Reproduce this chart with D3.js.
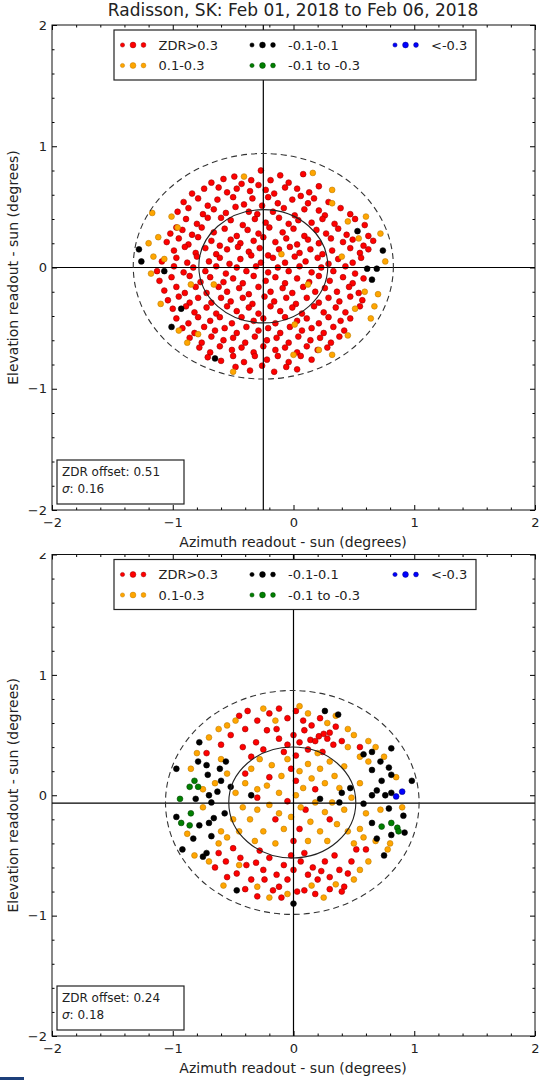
<!DOCTYPE html>
<html>
<head>
<meta charset="utf-8">
<script src="https://cdn.jsdelivr.net/npm/d3@7"></script>
<style>
  body { margin: 0; background: #fff; }
  svg { display: block; }
  text { font-family: "DejaVu Sans", sans-serif; fill: #222; }
</style>
</head>
<body>
<div id="chart"></div>
<script>
const titleText = "Radisson, SK: Feb 01, 2018 to Feb 06, 2018";
const xLabel = "Azimuth readout - sun (degrees)";
const yLabel = "Elevation readout - sun (degrees)";
const axisTicks = [-2, -1, 0, 1, 2];

// legend rows: [label, series key]
const legendRow1 = [["ZDR>0.3", "red"], ["-0.1-0.1", "black"], ["<-0.3", "blue"]];
const legendRow2 = [["0.1-0.3", "orange"], ["-0.1 to -0.3", "green"]];

// panel 1 (top)
const p1Cross = [-0.25, 0.0];
const p1Centre = [-0.25, 0.01];
const p1Inner = [0.534, 0.467];
const p1Outer = [1.077, 0.93];
const p1Stats = ["0.51", "0.16"];

const p1Red = [
  [-0.68,0.70],[-0.58,0.73],[-0.49,0.75],[-0.43,0.69],[-0.27,0.80],[-0.19,0.72],[-0.11,0.76],[-0.04,0.70],[0.08,0.77],[0.03,0.65],[-0.35,0.72],[-0.62,0.66],
  [-0.84,0.61],[-0.74,0.65],[-0.55,0.62],[-0.47,0.65],[-0.36,0.63],[-0.29,0.68],[-0.16,0.61],[-0.07,0.66],[0.13,0.62],[0.21,0.67],[-0.23,0.64],[0.06,0.59],
  [-0.91,0.54],[-0.79,0.57],[-0.71,0.51],[-0.63,0.56],[-0.50,0.58],[-0.41,0.52],[-0.34,0.57],[-0.21,0.58],[-0.13,0.53],[-0.01,0.56],[0.12,0.53],[0.17,0.57],[0.29,0.54],[-0.26,0.51],
  [-0.96,0.46],[-0.87,0.49],[-0.75,0.44],[-0.66,0.48],[-0.56,0.45],[-0.48,0.50],[-0.37,0.46],[-0.30,0.44],[-0.17,0.46],[-0.08,0.49],[0.01,0.43],[0.09,0.48],[0.21,0.47],[0.26,0.43],[0.39,0.49],[0.47,0.44],[-0.60,0.41],
  [-0.89,0.40],[-0.80,0.36],[-0.71,0.41],[-0.52,0.39],[-0.42,0.35],[-0.32,0.40],[-0.23,0.37],[-0.12,0.41],[-0.04,0.36],[0.04,0.39],[0.15,0.37],[0.24,0.40],[0.34,0.36],[0.51,0.40],[0.59,0.35],[-0.97,0.33],
  [-1.02,0.28],[-0.92,0.31],[-0.84,0.27],[-0.76,0.33],[-0.66,0.29],[-0.57,0.32],[-0.47,0.26],[-0.38,0.31],[-0.29,0.28],[-0.20,0.33],[-0.09,0.29],[0.00,0.32],[0.09,0.26],[0.19,0.31],[0.27,0.28],[0.37,0.32],[0.44,0.27],[0.62,0.26],
  [-1.05,0.21],[-0.95,0.24],[-0.87,0.19],[-0.79,0.25],[-0.68,0.22],[-0.61,0.18],[-0.52,0.23],[-0.44,0.20],[-0.33,0.22],[-0.25,0.25],[-0.15,0.21],[-0.06,0.24],[0.03,0.19],[0.12,0.23],[0.21,0.20],[0.31,0.24],[0.41,0.21],[0.49,0.23],[0.58,0.18],[0.66,0.22],
  [-0.99,0.14],[-0.90,0.17],[-0.81,0.12],[-0.73,0.16],[-0.64,0.11],[-0.55,0.15],[-0.46,0.17],[-0.37,0.13],[-0.28,0.16],[-0.21,0.10],[-0.12,0.15],[-0.03,0.17],[0.05,0.12],[0.14,0.15],[0.24,0.11],[0.32,0.14],[0.47,0.16],[0.55,0.12],[0.62,0.15],
  [-1.09,0.05],[-0.97,0.08],[-0.88,0.04],[-0.80,0.09],[-0.70,0.05],[-0.61,0.08],[-0.53,0.03],[-0.44,0.07],[-0.35,0.10],[-0.27,0.04],[-0.17,0.08],[-0.07,0.04],[0.01,0.09],[0.10,0.05],[0.20,0.08],[0.29,0.03],[0.37,0.07],[0.49,0.04],[0.56,0.08],
  [-1.13,-0.03],[-0.99,0.01],[-0.91,-0.04],[-0.83,0.00],[-0.73,-0.03],[-0.64,0.01],[-0.56,-0.05],[-0.47,0.00],[-0.39,-0.03],[-0.31,0.01],[-0.21,-0.04],[-0.13,0.00],[-0.04,-0.03],[0.05,0.01],[0.15,-0.04],[0.23,0.00],[0.33,-0.03],[0.43,0.01],[0.51,-0.05],
  [-1.11,-0.11],[-1.01,-0.08],[-0.86,-0.07],[-0.77,-0.12],[-0.69,-0.08],[-0.58,-0.12],[-0.50,-0.09],[-0.42,-0.13],[-0.33,-0.07],[-0.23,-0.11],[-0.15,-0.08],[-0.07,-0.13],[0.03,-0.09],[0.13,-0.12],[0.21,-0.07],[0.30,-0.11],[0.41,-0.08],[0.49,-0.13],[0.58,-0.09],
  [-1.07,-0.19],[-0.97,-0.16],[-0.90,-0.21],[-0.81,-0.16],[-0.72,-0.21],[-0.62,-0.16],[-0.55,-0.20],[-0.45,-0.17],[-0.37,-0.22],[-0.29,-0.16],[-0.19,-0.20],[-0.09,-0.17],[-0.01,-0.21],[0.08,-0.16],[0.18,-0.20],[0.26,-0.17],[0.36,-0.20],[0.46,-0.16],[0.54,-0.21],
  [-1.04,-0.27],[-0.95,-0.24],[-0.86,-0.29],[-0.79,-0.25],[-0.68,-0.29],[-0.60,-0.25],[-0.52,-0.28],[-0.42,-0.25],[-0.34,-0.30],[-0.24,-0.24],[-0.16,-0.28],[-0.06,-0.25],[0.02,-0.30],[0.11,-0.25],[0.21,-0.29],[0.29,-0.25],[0.38,-0.28],[0.47,-0.24],[0.57,-0.27],
  [-1.00,-0.34],[-0.89,-0.32],[-0.82,-0.37],[-0.72,-0.33],[-0.64,-0.38],[-0.55,-0.32],[-0.47,-0.36],[-0.37,-0.33],[-0.29,-0.38],[-0.19,-0.32],[-0.11,-0.36],[-0.01,-0.33],[0.07,-0.38],[0.17,-0.32],[0.25,-0.37],[0.35,-0.33],[0.43,-0.37],[0.55,-0.32],
  [-0.97,-0.42],[-0.87,-0.46],[-0.79,-0.41],[-0.69,-0.44],[-0.61,-0.41],[-0.51,-0.46],[-0.43,-0.41],[-0.33,-0.44],[-0.25,-0.42],[-0.15,-0.46],[-0.07,-0.41],[0.03,-0.44],[0.11,-0.42],[0.21,-0.46],[0.29,-0.41],[0.39,-0.44],[0.47,-0.42],
  [-0.92,-0.50],[-0.82,-0.54],[-0.74,-0.49],[-0.65,-0.52],[-0.57,-0.50],[-0.47,-0.54],[-0.39,-0.49],[-0.29,-0.52],[-0.21,-0.50],[-0.11,-0.54],[-0.03,-0.49],[0.07,-0.52],[0.15,-0.50],[0.25,-0.54],[0.33,-0.49],[0.42,-0.52],
  [-0.86,-0.58],[-0.76,-0.62],[-0.68,-0.57],[-0.58,-0.60],[-0.50,-0.58],[-0.40,-0.62],[-0.32,-0.57],[-0.22,-0.60],[-0.14,-0.58],[-0.04,-0.62],[0.04,-0.57],[0.14,-0.60],[0.22,-0.58],[0.31,-0.62],[0.38,-0.57],
  [-0.78,-0.66],[-0.69,-0.70],[-0.61,-0.65],[-0.51,-0.68],[-0.43,-0.66],[-0.33,-0.70],[-0.25,-0.65],[-0.15,-0.68],[-0.07,-0.66],[0.03,-0.70],[0.11,-0.65],[0.20,-0.68],[0.28,-0.66],
  [-0.71,-0.74],[-0.60,-0.77],[-0.50,-0.73],[-0.41,-0.78],[-0.32,-0.73],[-0.22,-0.76],[-0.13,-0.73],[-0.04,-0.78],[0.06,-0.73],[0.15,-0.76],
  [-0.48,-0.82],[-0.36,-0.85],[-0.26,-0.81],[-0.16,-0.86],[-0.06,-0.82],[0.03,-0.84]
];
const p1Orange = [
  [-1.17,0.45],[-1.01,0.42],[-0.96,0.33],[-1.07,0.07],[-1.16,0.09],[-0.85,-0.14],[-0.66,-0.14],[-0.79,-0.55],
  [0.00,-0.72],[0.01,-0.47],[-0.41,0.75],[0.16,0.78],[0.32,0.64],[0.32,0.53],[0.45,0.38],[0.40,0.09],
  [0.54,0.24],[0.76,0.05],[0.59,-0.20],[0.67,-0.32],[0.21,-0.68],[-0.10,0.11],[0.12,-0.14],[0.51,-0.34],
  [-1.12,0.25],[-1.20,0.20],[-0.95,-0.52],[-0.88,-0.62],[0.60,0.42],[0.70,-0.22],[0.64,-0.42],[0.72,0.28],
  [-1.10,-0.30],[-0.50,-0.86],[0.32,-0.72],[0.45,-0.56],[-1.18,-0.05]
];
const p1Black = [
  [-1.28,0.15],[-1.26,0.05],[-1.07,-0.03],[-0.93,-0.34],[-1.01,-0.49],[-0.65,-0.75],
  [0.53,0.30],[0.74,0.14],[0.61,-0.01],[0.69,-0.01],[0.65,-0.10]
];
const p1Green = [];
const p1Blue = [];

// panel 2 (bottom)
const p2Cross = [0.0, -0.065];
const p2Centre = [-0.01, -0.06];
const p2Inner = [0.526, 0.461];
const p2Outer = [1.05, 0.93];
const p2Stats = ["0.24", "0.18"];

const p2Red = [
  [-0.45,0.66],[-0.38,0.70],[-0.30,0.62],[-0.20,0.68],[-0.12,0.72],[-0.05,0.64],[0.02,0.70],[0.08,0.62],[0.15,0.58],[0.22,0.64],[0.30,0.52],[0.35,0.57],
  [-0.52,0.50],[-0.40,0.55],[-0.31,0.44],[-0.22,0.54],[-0.14,0.55],[-0.12,0.47],[-0.05,0.42],[0.00,0.50],[0.05,0.44],[0.09,0.54],[0.14,0.46],[0.18,0.45],
  [0.21,0.49],[0.25,0.51],[0.28,0.47],[0.33,0.42],[0.12,0.38],[-0.25,0.38],[-0.42,0.40],[0.40,0.45],[-0.60,0.42],[-0.35,0.32],[0.02,0.33],[-0.08,0.36],[0.24,0.36],
  [-0.20,0.15],[0.02,0.12],[-0.05,-0.05],[0.10,-0.12],[-0.15,-0.20],[0.05,-0.28],[0.18,0.05],[-0.30,-0.02],[0.00,-0.38],[-0.02,0.22],[0.30,-0.20],[-0.40,0.18],
  [-0.62,-0.48],[-0.56,-0.55],[-0.50,-0.44],[-0.47,-0.65],[-0.44,-0.52],[-0.39,-0.58],[-0.35,-0.70],[-0.31,-0.56],[-0.28,-0.46],[-0.25,-0.62],[-0.24,-0.70],
  [-0.20,-0.52],[-0.17,-0.79],[-0.14,-0.66],[-0.12,-0.76],[-0.08,-0.58],[-0.05,-0.70],[-0.02,-0.50],[0.00,-0.62],[0.03,-0.80],[0.06,-0.55],[0.09,-0.48],
  [0.09,-0.79],[0.12,-0.66],[0.16,-0.60],[0.20,-0.70],[0.23,-0.63],[0.26,-0.55],[0.30,-0.68],[0.34,-0.50],[0.38,-0.62],[0.42,-0.76],[0.45,-0.65],[0.40,-0.80],
  [0.48,-0.55],[0.30,-0.78],[-0.40,-0.78],[-0.30,-0.84],[-0.10,-0.85],[0.18,-0.82],[-0.55,-0.68],[0.52,-0.45],[-0.72,0.35],[0.60,-0.45],[0.55,0.40],[-0.65,-0.60]
];
const p2Orange = [
  [-0.40,0.10],[-0.35,0.22],[-0.28,0.30],[-0.22,0.08],[-0.18,0.25],[-0.12,0.02],[-0.10,0.16],[-0.05,0.30],[0.05,0.20],[0.08,0.06],[0.12,0.26],[0.15,0.14],
  [0.22,0.22],[0.26,0.10],[0.30,0.28],[0.34,0.16],[0.38,0.06],[0.42,0.24],[-0.42,-0.10],[-0.36,-0.20],[-0.30,-0.12],[-0.25,-0.30],[-0.20,-0.08],[-0.12,-0.15],
  [-0.08,-0.28],[-0.02,-0.18],[0.02,0.00],[0.06,-0.10],[0.14,-0.22],[0.18,-0.06],[0.22,-0.30],[0.26,-0.14],[0.32,-0.06],[0.36,-0.24],[0.42,-0.12],[0.45,-0.30],
  [-0.45,-0.30],[-0.32,-0.38],[0.12,-0.38],[-0.15,-0.40],[0.28,-0.38],[-0.48,0.02],[0.48,-0.02],[-0.30,0.05],[0.20,0.35],
  [-0.55,0.58],[-0.48,0.62],[-0.25,0.72],[-0.15,0.62],[0.05,0.74],[0.12,0.68],[0.28,0.60],[0.35,0.66],[0.45,0.55],[0.50,0.50],[-0.62,0.55],[-0.70,0.48],
  [-0.60,0.30],[0.55,0.32],[0.62,0.45],[0.45,0.40],[-0.80,0.35],[-0.85,0.22],[-0.65,0.10],[-0.75,0.05],[-0.55,0.18],[-0.50,-0.20],[-0.60,-0.30],[-0.75,-0.10],
  [-0.88,-0.32],[-0.62,-0.40],[-0.70,-0.55],[-0.82,-0.50],[-0.55,-0.35],[0.55,0.10],[0.62,0.28],[0.68,0.40],[0.75,0.32],[0.60,-0.15],[0.55,-0.28],[0.68,-0.38],
  [0.78,-0.45],[0.62,-0.55],[0.85,0.15],[0.90,-0.10],[0.72,-0.12],[0.58,-0.35],[0.50,-0.40],[0.80,-0.40],[-0.45,-0.58],[-0.30,-0.76],[-0.05,-0.82],[0.15,-0.75],
  [0.35,-0.74],[0.50,-0.70],[-0.58,-0.75],[-0.20,-0.85],[0.25,-0.85],[0.55,-0.62]
];
const p2Black = [
  [-0.97,0.22],[-0.78,0.44],[-0.79,0.28],[-0.72,0.25],[-0.71,0.17],[-0.61,0.22],[-0.56,0.28],[-0.60,0.12],[-0.52,0.07],[-0.63,0.03],
  [-0.70,0.00],[-0.68,-0.06],[-0.81,-0.03],[-0.97,-0.18],[-0.78,-0.25],[-0.70,-0.23],[-0.66,-0.19],[-0.83,-0.36],[-0.68,-0.34],[-0.72,-0.48],
  [-0.75,-0.51],[-0.92,-0.45],[-0.57,-0.15],[-0.35,0.00],[-0.47,-0.79],[0.00,-0.90],
  [0.26,0.70],[0.37,0.67],[0.58,0.34],[0.65,0.36],[0.81,0.39],[0.72,0.28],[0.65,0.21],[0.79,0.23],[0.81,0.17],[0.73,0.12],
  [0.69,0.04],[0.65,0.00],[0.76,0.00],[0.81,0.02],[0.98,0.12],[0.47,0.06],[0.40,0.02],[0.22,-0.03],[0.38,-0.06],[0.58,-0.07],
  [0.79,-0.11],[0.91,-0.17],[0.65,-0.23],[0.69,-0.36],[0.81,-0.33],[0.75,-0.50],[0.92,-0.31]
];
const p2Green = [
  [-0.94,-0.03],[-0.86,0.07],[-0.82,0.12],[-0.85,-0.15],[-0.93,-0.23],[-0.86,-0.25],[-0.79,0.07],
  [0.73,-0.26],[0.81,-0.23],[0.86,-0.27],[0.87,-0.30]
];
const p2Blue = [[0.90, 0.03], [0.85, -0.01]];

const seriesStyle = {
  red:    { fill: "#ff0000", stroke: "#9a0000" },
  orange: { fill: "#ffa500", stroke: "#c07c00" },
  black:  { fill: "#000000", stroke: "#000000" },
  green:  { fill: "#008000", stroke: "#004000" },
  blue:   { fill: "#0000ff", stroke: "#000080" }
};

const panels = [
  { top: 25, bottom: 510, cross: p1Cross, centre: p1Centre, inner: p1Inner, outer: p1Outer, stats: p1Stats,
    series: { red: p1Red, orange: p1Orange, black: p1Black, green: p1Green, blue: p1Blue } },
  { top: 554.5, bottom: 1036, cross: p2Cross, centre: p2Centre, inner: p2Inner, outer: p2Outer, stats: p2Stats,
    series: { red: p2Red, orange: p2Orange, black: p2Black, green: p2Green, blue: p2Blue } }
];

const W = 541, H = 1080;
const svg = d3.select("#chart").append("svg").attr("width", W).attr("height", H);

svg.append("text")
  .attr("x", 293).attr("y", 16)
  .attr("text-anchor", "middle")
  .style("font-size", "17px")
  .text(titleText);

const minorTicks = d3.range(-2, 2.001, 0.2).filter((v) => Math.abs(v - Math.round(v)) > 0.01);
const fmt = (d) => (d < 0 ? "\u2212" + Math.abs(d) : String(d));

// lower panel was cropped at its top edge in the original figure
svg.append("defs").append("clipPath").attr("id", "clip2")
  .append("rect").attr("x", 0).attr("y", 553).attr("width", W).attr("height", H - 553);

panels.forEach((p, i) => {
  const g = svg.append("g");
  if (i === 1) g.attr("clip-path", "url(#clip2)");

  const x = d3.scaleLinear().domain([-2, 2]).range([52, 535]);
  const y = d3.scaleLinear().domain([-2, 2]).range([p.bottom, p.top]);

  // points
  Object.keys(p.series).forEach((key) => {
    g.append("g").selectAll("circle")
      .data(p.series[key])
      .enter()
      .append("circle")
      .attr("cx", (d) => x(d[0]))
      .attr("cy", (d) => y(d[1]))
      .attr("r", 2.9)
      .attr("fill", seriesStyle[key].fill)
      .attr("stroke", seriesStyle[key].stroke)
      .attr("stroke-width", 0.6);
  });

  // crosshair
  g.append("line")
    .attr("x1", x(-2)).attr("x2", x(2))
    .attr("y1", y(p.cross[1])).attr("y2", y(p.cross[1]))
    .attr("stroke", "#000").attr("stroke-width", 1.2);
  g.append("line")
    .attr("x1", x(p.cross[0])).attr("x2", x(p.cross[0]))
    .attr("y1", y(-2)).attr("y2", y(2))
    .attr("stroke", "#000").attr("stroke-width", 1.2);

  // sun circles
  g.append("ellipse")
    .attr("cx", x(p.centre[0])).attr("cy", y(p.centre[1]))
    .attr("rx", x(p.inner[0]) - x(0)).attr("ry", y(0) - y(p.inner[1]))
    .attr("fill", "none").attr("stroke", "#222").attr("stroke-width", 1.1);
  g.append("ellipse")
    .attr("cx", x(p.centre[0])).attr("cy", y(p.centre[1]))
    .attr("rx", x(p.outer[0]) - x(0)).attr("ry", y(0) - y(p.outer[1]))
    .attr("fill", "none").attr("stroke", "#333").attr("stroke-width", 1.1)
    .attr("stroke-dasharray", "6,4");

  // axes: ticks pointing inwards on all four sides
  const axes = [
    [d3.axisBottom(x), `translate(0,${p.bottom})`, true],
    [d3.axisTop(x), `translate(0,${p.top})`, false],
    [d3.axisLeft(y), `translate(52,0)`, true],
    [d3.axisRight(y), `translate(535,0)`, false]
  ];
  axes.forEach(([axis, tr, labels], k) => {
    const major = g.append("g").attr("transform", tr)
      .call(axis.tickValues(axisTicks).tickSize(-5)
        .tickPadding(k === 0 ? 8 : 5)
        .tickFormat(labels ? fmt : ""));
    major.select(".domain").remove();
    major.selectAll("text").style("font-size", "13px").attr("fill", "#222");
    const minor = g.append("g").attr("transform", tr)
      .call(axis.tickValues(minorTicks).tickSize(-2.5).tickFormat(""));
    minor.select(".domain").remove();
  });

  g.append("rect")
    .attr("x", x(-2)).attr("y", p.top)
    .attr("width", x(2) - x(-2)).attr("height", p.bottom - p.top)
    .attr("fill", "none").attr("stroke", "#111").attr("stroke-width", 1);

  // axis titles
  g.append("text")
    .attr("x", 293).attr("y", p.bottom + 37)
    .attr("text-anchor", "middle").style("font-size", "14px")
    .text(xLabel);
  g.append("text")
    .attr("transform", `translate(18,${(p.top + p.bottom) / 2}) rotate(-90)`)
    .attr("text-anchor", "middle").style("font-size", "14px")
    .text(yLabel);

  // legend
  const lg = g.append("g").attr("transform", `translate(114,${p.top + 5})`);
  lg.append("rect").attr("width", 362).attr("height", 50)
    .attr("fill", "#fff").attr("stroke", "#222").attr("stroke-width", 1.2);
  const colX = [0, 129.5, 272.5];
  const dotDx = [8.5, 19, 29.5];
  const dotR = [2.1, 2.9, 2.4];
  [legendRow1, legendRow2].forEach((row, r) => {
    const ry = r === 0 ? 15 : 35.5;
    row.forEach(([label, key], c) => {
      dotDx.forEach((dx, j) => {
        lg.append("circle")
          .attr("cx", colX[c] + dx).attr("cy", ry).attr("r", dotR[j])
          .attr("fill", seriesStyle[key].fill)
          .attr("stroke", seriesStyle[key].stroke).attr("stroke-width", 0.5);
      });
      lg.append("text")
        .attr("x", colX[c] + 44.5).attr("y", ry + 4.5)
        .style("font-size", "13px")
        .text(label);
    });
  });

  // offset box
  const bTop = p.bottom - 6 - 44;
  const bx = g.append("g").attr("transform", `translate(57,${bTop})`);
  bx.append("rect").attr("width", 127).attr("height", 44)
    .attr("fill", "#fff").attr("stroke", "#222").attr("stroke-width", 1.2);
  bx.append("text").attr("x", 5).attr("y", 16).style("font-size", "12px")
    .text("ZDR offset: " + p.stats[0]);
  const s = bx.append("text").attr("x", 5).attr("y", 33).style("font-size", "12px");
  s.append("tspan").style("font-style", "italic").text("\u03c3");
  s.append("tspan").text(": " + p.stats[1]);
});

svg.append("rect").attr("x", 0).attr("y", 1077).attr("width", 24).attr("height", 3).attr("fill", "#1d3f7a");
</script>
</body>
</html>
